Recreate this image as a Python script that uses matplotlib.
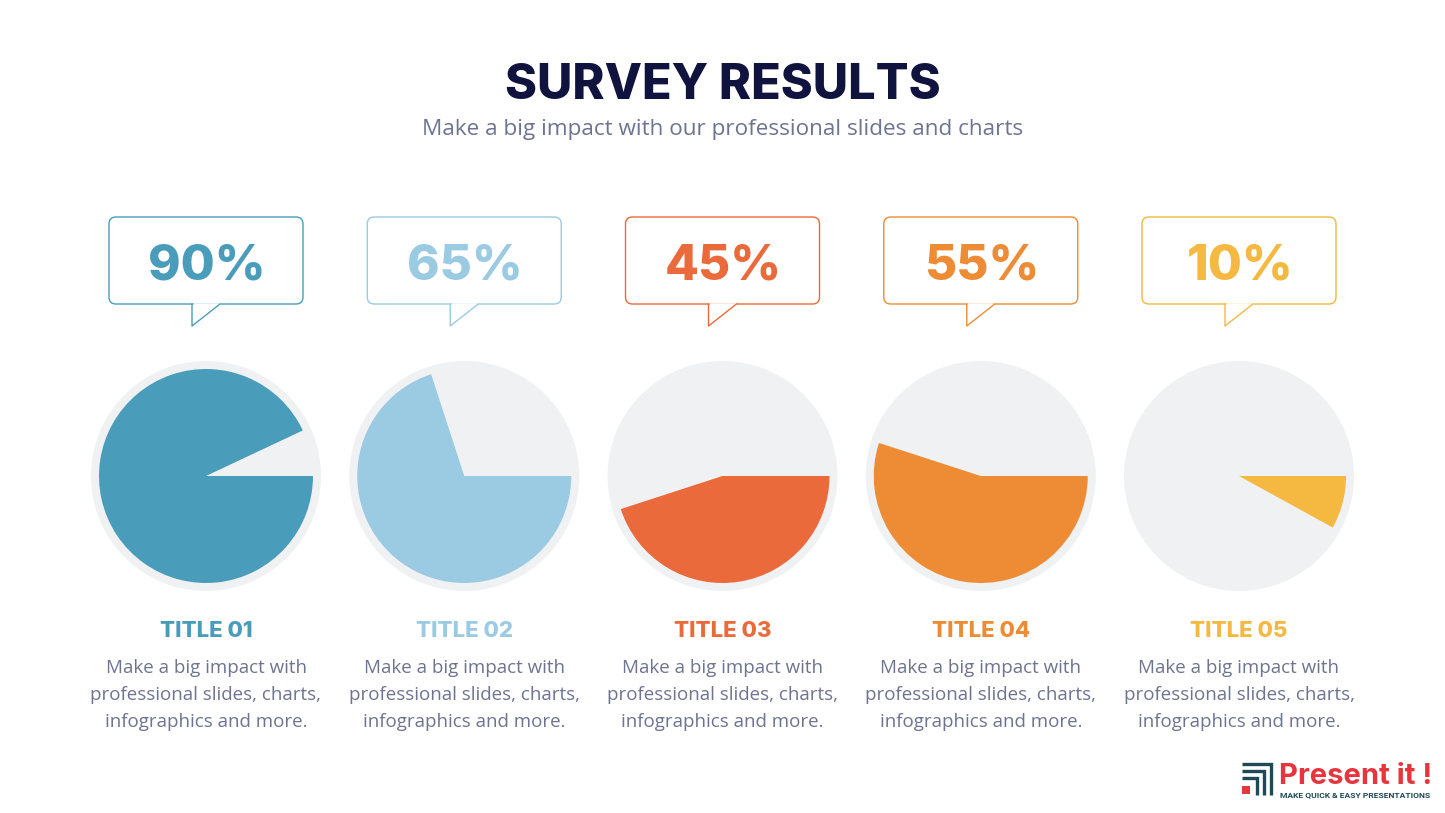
import matplotlib
matplotlib.use("Agg")
import matplotlib.pyplot as plt
from matplotlib.patches import FancyBboxPatch, Rectangle

# ---------------- data ----------------
pct_labels = [90, 65, 45, 55, 10]          # numbers printed in the bubbles
wedge_shares = [93, 70, 45, 55, 8]         # wedge sizes as drawn in the pies (%)
titles = ["TITLE 01", "TITLE 02", "TITLE 03", "TITLE 04", "TITLE 05"]
colors = ["#4A9DBA", "#9BCAE3", "#EB6A3C", "#EE8C35", "#F5B841"]
body_lines = ["Make a big impact with",
              "professional slides, charts,",
              "infographics and more."]
main_title = "SURVEY RESULTS"
subtitle = "Make a big impact with our professional slides and charts"

W, H = 1445, 813
def Y(y):
    return H - y

fig = plt.figure(figsize=(W / 100, H / 100), dpi=100)
ax = fig.add_axes([0, 0, 1, 1])

HEAD = ["Inter", "DejaVu Sans"]
BODY = ["Open Sans", "DejaVu Sans"]
navy = "#11133F"
grey_txt = "#6E7490"
bg_grey = "#F0F1F3"

x0, step = 206, 258.25
cy = 476
for i, (lab, share, ttl, col) in enumerate(zip(pct_labels, wedge_shares, titles, colors)):
    cx = x0 + i * step
    # background circle
    ax.pie([1], colors=[bg_grey], radius=115, center=(cx, Y(cy)),
           wedgeprops=dict(linewidth=0))
    # data wedge, clockwise from 3 o'clock
    ax.pie([share, 100 - share], colors=[col, "none"], radius=107,
           center=(cx, Y(cy)), startangle=0, counterclock=False,
           wedgeprops=dict(linewidth=0))

    # speech bubble
    bw, bh = 194, 87
    bx, by_top = cx - bw / 2, 217
    box = FancyBboxPatch((bx, Y(by_top + bh)), bw, bh,
                         boxstyle="round,pad=0,rounding_size=7",
                         facecolor="white", edgecolor=col, linewidth=1.0,
                         zorder=5)
    ax.add_patch(box)
    tl, tr, tip = cx - 14, cx + 14, 22
    ax.plot([tl + 0.5, tr - 0.5], [Y(by_top + bh), Y(by_top + bh)],
            color="white", lw=1.8, zorder=6, solid_capstyle="butt")
    ax.plot([tl, tl, tr], [Y(by_top + bh), Y(by_top + bh + tip), Y(by_top + bh)],
            color=col, lw=1.0, zorder=7)
    ax.text(cx + 1, Y(279), f"{lab}%", ha="center", va="baseline",
            fontsize=35.5, fontweight="heavy", family=HEAD, color=col, zorder=8)

    # title and body text
    ax.text(cx, Y(637), ttl, ha="center", va="baseline", fontsize=16,
            fontweight="heavy", family=HEAD, color=col)
    for j, line in enumerate(body_lines):
        ax.text(cx, Y(673 + 27 * j), line, ha="center", va="baseline",
                fontsize=13.5, family=BODY, color=grey_txt)

# headline
ax.text(W / 2 + 0.5, Y(99), main_title, ha="center", va="baseline",
        fontsize=35, fontweight="heavy", family=HEAD, color=navy)
ax.text(W / 2, Y(135), subtitle, ha="center", va="baseline",
        fontsize=16.2, family=BODY, color=grey_txt)

# logo
teal = "#1F4A55"
red = "#E8343C"
for k in range(3):
    yy = 764 + 6.8 * k
    xr = 1271 - 6.8 * k
    ax.plot([1242, xr, xr], [Y(yy), Y(yy), Y(795)], color=teal, lw=2.4,
            solid_joinstyle="miter", solid_capstyle="butt")
ax.add_patch(Rectangle((1242, Y(794)), 8, 8, facecolor=red, edgecolor="none"))
ax.text(1279, Y(784), "Present it !", ha="left", va="baseline", fontsize=21,
        fontweight="bold", family=HEAD, color=red)
ax.text(1280, Y(797), "MAKE QUICK & EASY PRESENTATIONS", ha="left",
        va="baseline", fontsize=6.1, fontweight="bold",
        family=["Roboto", "DejaVu Sans"], color=teal)

ax.set_xlim(0, W)
ax.set_ylim(0, H)
ax.set_aspect("equal")
ax.axis("off")
fig.savefig("out.png", dpi=100, facecolor="white")
